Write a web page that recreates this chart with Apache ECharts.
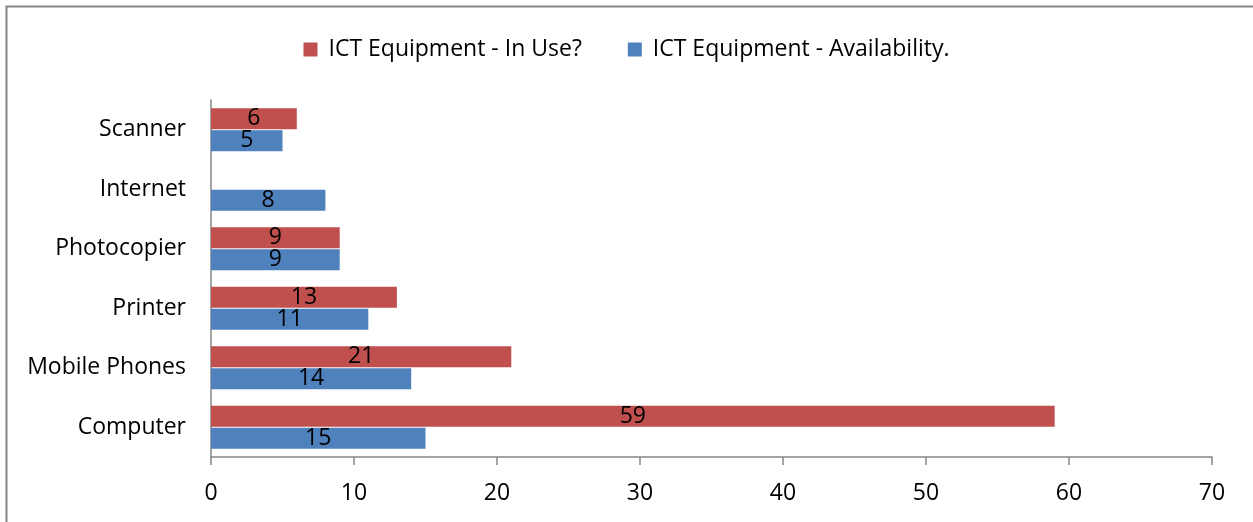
<!DOCTYPE html>
<html>
<head>
<meta charset="utf-8">
<script src="https://cdn.jsdelivr.net/npm/echarts@6/dist/echarts.min.js"></script>
<style>
  html, body { margin: 0; padding: 0; background: #fff; }
  #chart { width: 1253px; height: 522px; }
</style>
</head>
<body>
<div id="chart"></div>
<script>
// Equipment categories, bottom to top
const categories = ['Computer', 'Mobile Phones', 'Printer', 'Photocopier', 'Internet', 'Scanner'];
// Number of respondents using each item
const inUse = [59, 21, 13, 9, null, 6];
// Number of respondents reporting each item as available
const availability = [15, 14, 11, 9, 8, 5];
const xTicks = [0, 10, 20, 30, 40, 50, 60, 70];

const FONT = '"Open Sans", sans-serif';
const FS = 23;
const chart = echarts.init(document.getElementById('chart'));

const labelStyle = {
  show: true,
  position: 'inside',
  color: '#000',
  fontSize: FS,
  fontFamily: FONT
};

chart.setOption({
  animation: false,
  graphic: [{
    type: 'rect',
    shape: { x: 6.5, y: 6.5, width: 1400, height: 700 },
    style: { fill: 'none', stroke: '#868686', lineWidth: 2 },
    silent: true
  }],
  legend: {
    data: ['ICT Equipment - In Use?', 'ICT Equipment - Availability.'],
    top: 33,
    left: 'center',
    itemWidth: 14,
    itemHeight: 14,
    itemGap: 46,
    icon: 'rect',
    textStyle: { fontSize: FS, fontFamily: FONT, color: '#000', padding: [0, 0, 0, 6] }
  },
  grid: { left: 211, right: 41, top: 100, bottom: 65, containLabel: false },
  xAxis: {
    type: 'value',
    min: xTicks[0],
    max: xTicks[xTicks.length - 1],
    interval: 10,
    axisLine: { show: true, lineStyle: { color: '#868686', width: 1.5 } },
    axisTick: { show: true, length: 8, lineStyle: { color: '#868686', width: 1.5 } },
    splitLine: { show: false },
    axisLabel: { fontSize: FS, fontFamily: FONT, color: '#000', margin: 25 }
  },
  yAxis: {
    type: 'category',
    data: categories,
    axisLine: { show: true, lineStyle: { color: '#868686', width: 1.5 } },
    axisTick: { show: false },
    axisLabel: { fontSize: FS, fontFamily: FONT, color: '#000', margin: 25 }
  },
  series: [
    {
      name: 'ICT Equipment - In Use?',
      type: 'bar',
      data: inUse,
      barWidth: 21,
      barGap: '4%',
      itemStyle: { color: '#c0504d' },
      label: labelStyle
    },
    {
      name: 'ICT Equipment - Availability.',
      type: 'bar',
      data: availability,
      barWidth: 21,
      barGap: '4%',
      itemStyle: { color: '#4f81bd' },
      label: labelStyle
    }
  ]
});
</script>
</body>
</html>
